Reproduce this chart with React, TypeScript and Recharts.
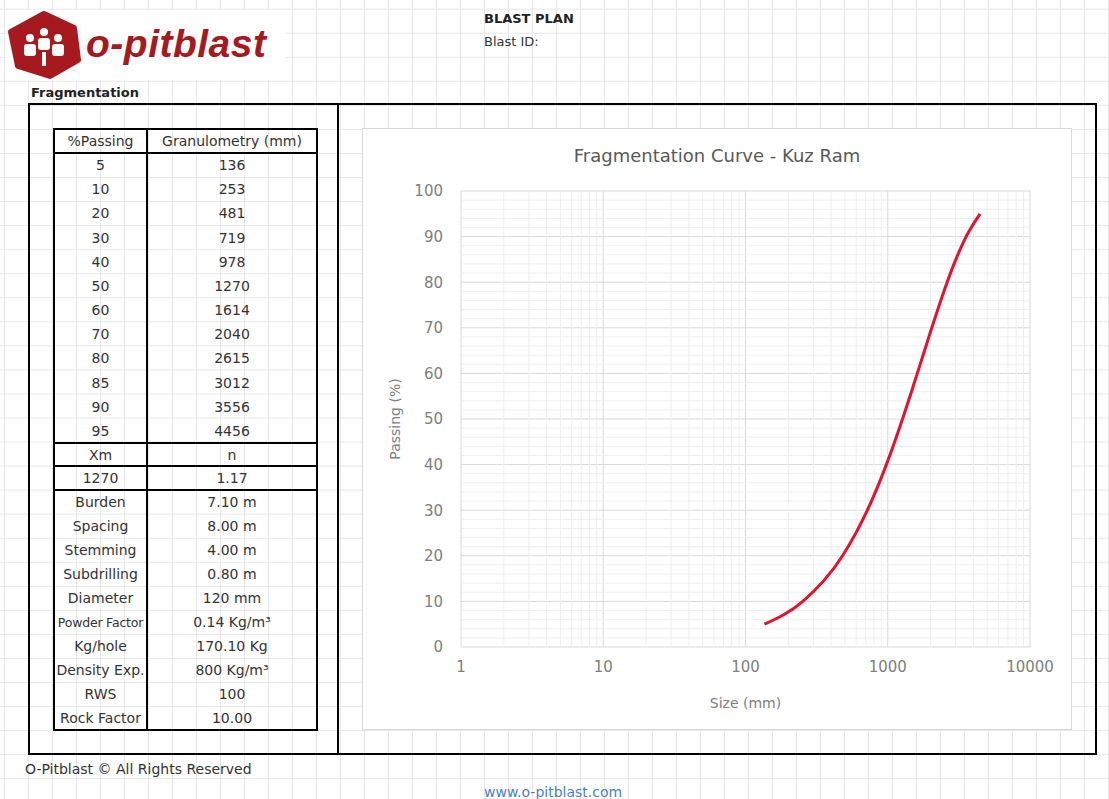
import { LineChart, Line, XAxis, YAxis, CartesianGrid, ReferenceLine } from 'recharts';

const passing = [5, 10, 20, 30, 40, 50, 60, 70, 80, 85, 90, 95];
const granulometry = [136, 253, 481, 719, 978, 1270, 1614, 2040, 2615, 3012, 3556, 4456];

const xm = '1270';
const nValue = '1.17';

const paramNames = ['Burden', 'Spacing', 'Stemming', 'Subdrilling', 'Diameter', 'Powder Factor', 'Kg/hole', 'Density Exp.', 'RWS', 'Rock Factor'];
const paramValues = ['7.10 m', '8.00 m', '4.00 m', '0.80 m', '120 mm', '0.14 Kg/m³', '170.10 Kg', '800 Kg/m³', '100', '10.00'];

const xTicks = [1, 10, 100, 1000, 10000];
const yTicks = [0, 10, 20, 30, 40, 50, 60, 70, 80, 90, 100];
const xMinor = [2, 3, 4, 5, 6, 7, 8, 9, 20, 30, 40, 50, 60, 70, 80, 90, 200, 300, 400, 500, 600, 700, 800, 900, 2000, 3000, 4000, 5000, 6000, 7000, 8000, 9000];
const yMinor = [2, 4, 6, 8, 12, 14, 16, 18, 22, 24, 26, 28, 32, 34, 36, 38, 42, 44, 46, 48, 52, 54, 56, 58, 62, 64, 66, 68, 72, 74, 76, 78, 82, 84, 86, 88, 92, 94, 96, 98];

const curve = granulometry.map((size, i) => ({ size, passing: passing[i] }));

const FONT = '"DejaVu Sans", sans-serif';
const TEXT = '#333';

function Cell({ left, top, width, height, children, small }: any) {
    return (
        <div
            style={{
                position: 'absolute', left, top, width, height,
                display: 'flex', alignItems: 'center',
                overflow: 'hidden', whiteSpace: 'nowrap',
            }}
        >
            <div style={{ width: '100%', textAlign: 'center', fontSize: small ? 12.5 : 14, letterSpacing: small ? -0.2 : 0, color: TEXT }}>{children}</div>
        </div>
    );
}

function HLine({ top, left = 53, width = 265 }: any) {
    return <div style={{ position: 'absolute', left, top: top - 1, width, height: 2, background: '#000' }} />;
}

function FragTable() {
    const c1 = 55, w1 = 91, c2 = 148, w2 = 168;
    const rows: any[] = [];
    rows.push(<Cell key="h1" left={c1} top={129} width={w1} height={24}>%Passing</Cell>);
    rows.push(<Cell key="h2" left={c2} top={129} width={w2} height={24}>Granulometry (mm)</Cell>);
    const step = (443 - 153) / passing.length;
    passing.forEach((p, i) => {
        const top = 153 + i * step;
        rows.push(<Cell key={'p' + i} left={c1} top={top} width={w1} height={step}>{p}</Cell>);
        rows.push(<Cell key={'g' + i} left={c2} top={top} width={w2} height={step}>{granulometry[i]}</Cell>);
    });
    rows.push(<Cell key="xm" left={c1} top={443} width={w1} height={23}>Xm</Cell>);
    rows.push(<Cell key="n" left={c2} top={443} width={w2} height={23}>n</Cell>);
    rows.push(<Cell key="xmv" left={c1} top={466} width={w1} height={24}>{xm}</Cell>);
    rows.push(<Cell key="nv" left={c2} top={466} width={w2} height={24}>{nValue}</Cell>);
    paramNames.forEach((name, i) => {
        const top = 490 + i * 24;
        rows.push(<Cell key={'pn' + i} left={c1} top={top} width={w1} height={24} small={name.length > 12}>{name}</Cell>);
        rows.push(<Cell key={'pv' + i} left={c2} top={top} width={w2} height={24}>{paramValues[i]}</Cell>);
    });
    return (
        <>
            <div style={{ position: 'absolute', left: 53, top: 128, width: 265, height: 603, border: '2px solid #000', boxSizing: 'border-box' }} />
            <div style={{ position: 'absolute', left: 146, top: 128, width: 2, height: 603, background: '#000' }} />
            <HLine top={153} />
            <HLine top={443} />
            <HLine top={466} />
            <HLine top={490} />
            {rows}
        </>
    );
}

function Logo() {
    return (
        <div style={{ position: 'absolute', left: 6, top: 10, width: 280, height: 70, background: '#fff' }}>
            <svg width={80} height={70} style={{ position: 'absolute', left: 0, top: 0 }}>
                <polygon points="38,4 68,18 72,50 44,66 12,56 5,22" fill="#a5191f" stroke="#a5191f" strokeWidth={6} strokeLinejoin="round" />
                <circle cx={24} cy={28} r={4} fill="#fff" />
                <circle cx={38} cy={22} r={4} fill="#fff" />
                <circle cx={52} cy={28} r={4} fill="#fff" />
                <rect x={18} y={34} width={12} height={12} rx={3} fill="#fff" />
                <rect x={32} y={28} width={12} height={12} rx={3} fill="#fff" />
                <rect x={46} y={34} width={12} height={12} rx={3} fill="#fff" />
                <rect x={36} y={42} width={4} height={14} fill="#fff" />
            </svg>
            <div style={{ position: 'absolute', left: 80, top: 12, fontFamily: '"Liberation Sans", sans-serif', fontWeight: 700, fontStyle: 'italic', fontSize: 39, color: '#a5191f', letterSpacing: 0.5 }}>
                o-pitblast
            </div>
        </div>
    );
}

export default function App() {
    return (
        <div
            style={{
                position: 'absolute', left: 0, top: 0, width: 1109, height: 799, overflow: 'hidden',
                fontFamily: FONT, background: '#fff',
                backgroundImage: 'linear-gradient(to right, #e6e6e6 1px, transparent 1px), linear-gradient(to bottom, #e6e6e6 1px, transparent 1px)',
                backgroundSize: '24px 24.05px',
                backgroundPosition: '4px 8.7px',
            }}
        >
            <Logo />
            <div style={{ position: 'absolute', left: 484, top: 11, fontSize: 13, fontWeight: 700, color: '#222' }}>BLAST PLAN</div>
            <div style={{ position: 'absolute', left: 484, top: 34, fontSize: 13, color: '#333' }}>Blast ID:</div>
            <div style={{ position: 'absolute', left: 31, top: 85, fontSize: 13, fontWeight: 700, color: '#222' }}>Fragmentation</div>

            <div style={{ position: 'absolute', left: 28, top: 103, width: 1069, height: 652, border: '2px solid #000', boxSizing: 'border-box' }} />
            <div style={{ position: 'absolute', left: 337, top: 103, width: 2, height: 652, background: '#000' }} />

            <FragTable />

            <div style={{ position: 'absolute', left: 362, top: 128, width: 710, height: 602, background: '#fff', border: '1px solid #d9d9d9', boxSizing: 'border-box' }} />
            <div style={{ position: 'absolute', left: 362, top: 145, width: 710, textAlign: 'center', fontSize: 18, color: '#595959' }}>
                Fragmentation Curve - Kuz Ram
            </div>
            <div style={{ position: 'absolute', left: 362, top: 128 }}>
                <LineChart width={710} height={602} data={curve} margin={{ top: 63, right: 42, left: 0, bottom: 0 }}>
                    <CartesianGrid stroke="#d9d9d9" />
                    {xMinor.map((v) => (
                        <ReferenceLine key={'xm' + v} x={v} stroke="#efefef" />
                    ))}
                    {yMinor.map((v) => (
                        <ReferenceLine key={'ym' + v} y={v} stroke="#efefef" />
                    ))}
                    <XAxis
                        dataKey="size"
                        type="number"
                        scale="log"
                        domain={[1, 10000]}
                        ticks={xTicks}
                        interval={0}
                        axisLine={false}
                        tickLine={false}
                        tickSize={0}
                        tickMargin={14}
                        height={83}
                        tick={{ fill: '#808080', fontSize: 15, fontFamily: FONT }}
                        label={{ value: 'Size (mm)', position: 'insideBottom', offset: 22, fill: '#808080', fontSize: 14, fontFamily: FONT }}
                    />
                    <YAxis
                        type="number"
                        domain={[0, 100]}
                        ticks={yTicks}
                        interval={0}
                        axisLine={false}
                        tickLine={false}
                        tickSize={0}
                        tickMargin={18}
                        width={99}
                        tick={{ fill: '#808080', fontSize: 15, fontFamily: FONT }}
                        label={{ value: 'Passing (%)', angle: -90, position: 'insideLeft', offset: 33, fill: '#808080', fontSize: 14, fontFamily: FONT, style: { textAnchor: 'middle' } }}
                    />
                    <Line
                        type="monotone"
                        dataKey="passing"
                        stroke="#e8112d"
                        strokeWidth={3}
                        dot={false}
                        isAnimationActive={false}
                    />
                </LineChart>
            </div>

            <div style={{ position: 'absolute', left: 25, top: 761, fontSize: 14, color: '#333' }}>O-Pitblast © All Rights Reserved</div>
            <div style={{ position: 'absolute', left: 484, top: 784, fontSize: 14, color: '#4a7fc8' }}>www.o-pitblast.com</div>
        </div>
    );
}
